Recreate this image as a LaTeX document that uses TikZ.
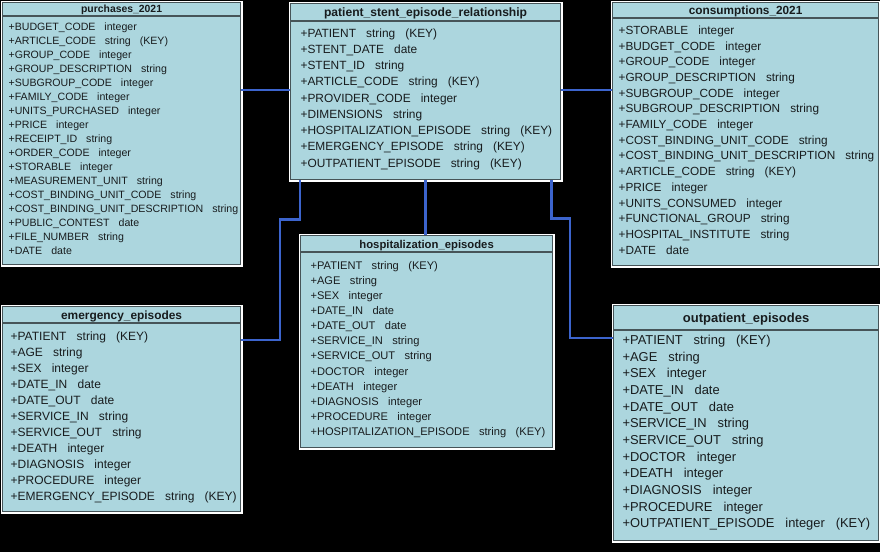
\documentclass[tikz,border=0pt]{standalone}
\usepackage{fontspec}
\setmainfont{Liberation Sans}
\definecolor{tblfill}{RGB}{172,214,222}
\definecolor{tblline}{RGB}{70,84,88}
\definecolor{tbltext}{RGB}{24,28,30}
\definecolor{linkblue}{RGB}{60,100,205}
\newcommand{\colgap}{\hspace{0.85em}}
\begin{document}
\begin{tikzpicture}[x=1pt,y=-1pt,line width=1.2pt]
\tikzset{
  tbl/.style={rectangle,draw=tblline,fill=tblfill,inner sep=0pt,anchor=north west,
    preaction={draw=white,line width=4pt}},
  ttl/.style={anchor=base,inner sep=0pt,text=tbltext},
  row/.style={anchor=base west,inner sep=0pt,text=tbltext},
  sep/.style={draw=tblline,line width=1.3pt},
  link/.style={draw=linkblue,line width=2.6pt}
}
\fill[black] (0,0) rectangle (880,552);
\useasboundingbox (0,0) rectangle (880,552);

% purchases_2021
\node[tbl,minimum width=238pt,minimum height=262pt] (purch) at (2,2) {};
\node[ttl,font=\fontsize{10.4}{12}\selectfont\bfseries] (purch-t) at (purch.north |- 0,12.7) {purchases\_2021};
\draw[sep] (purch.west |- 0,16) -- (purch.east |- 0,16);
\foreach \fname/\ftype [count=\i from 0] in {BUDGET\_CODE/integer, ARTICLE\_CODE/{string\colgap(KEY)},
  GROUP\_CODE/integer, GROUP\_DESCRIPTION/string, SUBGROUP\_CODE/integer, FAMILY\_CODE/integer,
  UNITS\_PURCHASED/integer, PRICE/integer, RECEIPT\_ID/string, ORDER\_CODE/integer, STORABLE/integer,
  MEASUREMENT\_UNIT/string, COST\_BINDING\_UNIT\_CODE/string, COST\_BINDING\_UNIT\_DESCRIPTION/string,
  PUBLIC\_CONTEST/date, FILE\_NUMBER/string, DATE/date}
  \node[row,font=\fontsize{10.6}{12}\selectfont] (purch-\i) at (8,{30.5+14*\i}) {+\fname\colgap\ftype};

% patient_stent_episode_relationship
\node[tbl,minimum width=270pt,minimum height=176pt] (rel) at (290,3) {};
\node[ttl,font=\fontsize{12.1}{14}\selectfont\bfseries] (rel-t) at (rel.north |- 0,16.6) {patient\_stent\_episode\_relationship};
\draw[sep] (rel.west |- 0,21) -- (rel.east |- 0,21);
\foreach \fname/\ftype [count=\i from 0] in {PATIENT/{string\colgap(KEY)}, STENT\_DATE/date, STENT\_ID/string,
  ARTICLE\_CODE/{string\colgap(KEY)}, PROVIDER\_CODE/integer, DIMENSIONS/string,
  HOSPITALIZATION\_EPISODE/{string\colgap(KEY)}, EMERGENCY\_EPISODE/{string\colgap(KEY)},
  OUTPATIENT\_EPISODE/{string\colgap(KEY)}}
  \node[row,font=\fontsize{11.9}{14}\selectfont] (rel-\i) at (300,{37+16.25*\i}) {+\fname\colgap\ftype};

% consumptions_2021
\node[tbl,minimum width=266pt,minimum height=263pt] (cons) at (612,2) {};
\node[ttl,font=\fontsize{11.8}{14}\selectfont\bfseries] (cons-t) at (cons.north |- 0,14.2) {consumptions\_2021};
\draw[sep] (cons.west |- 0,18) -- (cons.east |- 0,18);
\foreach \fname/\ftype [count=\i from 0] in {STORABLE/integer, BUDGET\_CODE/integer, GROUP\_CODE/integer,
  GROUP\_DESCRIPTION/string, SUBGROUP\_CODE/integer, SUBGROUP\_DESCRIPTION/string, FAMILY\_CODE/integer,
  COST\_BINDING\_UNIT\_CODE/string, COST\_BINDING\_UNIT\_DESCRIPTION/string, ARTICLE\_CODE/{string\colgap(KEY)},
  PRICE/integer, UNITS\_CONSUMED/integer, FUNCTIONAL\_GROUP/string, HOSPITAL\_INSTITUTE/string, DATE/date}
  \node[row,font=\fontsize{11.8}{14}\selectfont] (cons-\i) at (618,{34.3+15.7*\i}) {+\fname\colgap\ftype};

% emergency_episodes
\node[tbl,minimum width=238pt,minimum height=205pt] (emerg) at (2,306) {};
\node[ttl,font=\fontsize{11.9}{14}\selectfont\bfseries] (emerg-t) at (emerg.north |- 0,319.3) {emergency\_episodes};
\draw[sep] (emerg.west |- 0,323) -- (emerg.east |- 0,323);
\foreach \fname/\ftype [count=\i from 0] in {PATIENT/{string\colgap(KEY)}, AGE/string, SEX/integer,
  DATE\_IN/date, DATE\_OUT/date, SERVICE\_IN/string, SERVICE\_OUT/string, DEATH/integer,
  DIAGNOSIS/integer, PROCEDURE/integer, EMERGENCY\_EPISODE/{string\colgap(KEY)}}
  \node[row,font=\fontsize{12}{14}\selectfont] (emerg-\i) at (10,{340.3+16*\i}) {+\fname\colgap\ftype};

% hospitalization_episodes
\node[tbl,minimum width=252pt,minimum height=212pt] (hosp) at (300,235) {};
\node[ttl,font=\fontsize{11.3}{14}\selectfont\bfseries] (hosp-t) at (hosp.north |- 0,248.1) {hospitalization\_episodes};
\draw[sep] (hosp.west |- 0,252) -- (hosp.east |- 0,252);
\foreach \fname/\ftype [count=\i from 0] in {PATIENT/{string\colgap(KEY)}, AGE/string, SEX/integer,
  DATE\_IN/date, DATE\_OUT/date, SERVICE\_IN/string, SERVICE\_OUT/string, DOCTOR/integer, DEATH/integer,
  DIAGNOSIS/integer, PROCEDURE/integer, HOSPITALIZATION\_EPISODE/{string\colgap(KEY)}}
  \node[row,font=\fontsize{11.1}{14}\selectfont] (hosp-\i) at (310,{269+15.15*\i}) {+\fname\colgap\ftype};

% outpatient_episodes
\node[tbl,minimum width=265pt,minimum height=235pt] (outp) at (613,305) {};
\node[ttl,font=\fontsize{13}{15}\selectfont\bfseries] (outp-t) at (outp.north |- 0,322) {outpatient\_episodes};
\draw[sep] (outp.west |- 0,330) -- (outp.east |- 0,330);
\foreach \fname/\ftype [count=\i from 0] in {PATIENT/{string\colgap(KEY)}, AGE/string, SEX/integer,
  DATE\_IN/date, DATE\_OUT/date, SERVICE\_IN/string, SERVICE\_OUT/string, DOCTOR/integer, DEATH/integer,
  DIAGNOSIS/integer, PROCEDURE/integer, OUTPATIENT\_EPISODE/{integer\colgap(KEY)}}
  \node[row,font=\fontsize{12.9}{15}\selectfont] (outp-\i) at (622,{344.6+16.67*\i}) {+\fname\colgap\ftype};

% links
\draw[link] (purch.east |- 0,90) -- (rel.west |- 0,90);
\draw[link] (rel.east |- 0,90) -- (cons.west |- 0,90);
\draw[link] ([xshift=10pt]rel.south west) -- ++(0,39) -| (280,340) -- (emerg.east |- 0,340);
\draw[link] (rel.south) -- (rel.south |- hosp.north);
\draw[link] ([xshift=-10pt]rel.south east) -- ++(0,38) -| (570,338) -- (outp.west |- 0,338);
\end{tikzpicture}
\end{document}
